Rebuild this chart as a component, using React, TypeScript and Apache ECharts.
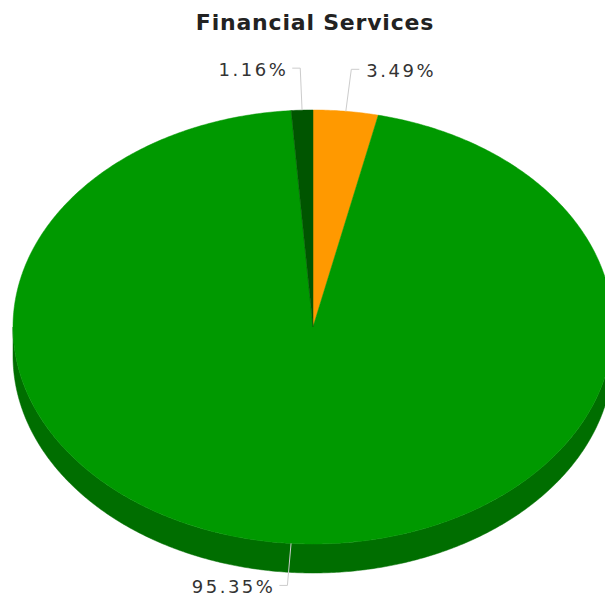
import React, { useEffect, useRef } from "react";
import * as echarts from "echarts";

const chartTitle = "Financial Services";
const sliceNames = ["Segment A", "Segment B", "Segment C"];
const sliceValues = [3.49, 95.35, 1.16];
const sliceLabels = ["3.49%", "95.35%", "1.16%"];
const topColors = ["#FF9900", "#009900", "#005500"];
const sideColors = ["#B36B00", "#006E00", "#003B00"];

const CX = 313;
const CY = 327;
const RX = 300;
const RY = 217;
const DEPTH = 29;

function pt(theta: number, dy = 0): number[] {
  const r = (theta * Math.PI) / 180;
  return [CX + RX * Math.sin(r), CY - RY * Math.cos(r) + dy];
}

function arcPoints(a1: number, a2: number, dy = 0): number[][] {
  const pts: number[][] = [];
  const steps = Math.max(2, Math.ceil(Math.abs(a2 - a1) / 0.5));
  for (let i = 0; i <= steps; i++) {
    pts.push(pt(a1 + ((a2 - a1) * i) / steps, dy));
  }
  return pts;
}

export default function App() {
  const ref = useRef<HTMLDivElement>(null);
  useEffect(() => {
    if (!ref.current) return;
    const chart = echarts.init(ref.current, undefined, { renderer: "svg" });
    const total = sliceValues.reduce((a, b) => a + b, 0);
    const starts: number[] = [];
    let acc = 0;
    sliceValues.forEach((v) => {
      starts.push((acc / total) * 360);
      acc += v;
    });

    const renderItem = (params: any, api: any) => {
      const i = params.dataIndex;
      const v = api.value(0);
      const a1 = starts[i];
      const a2 = a1 + (v / total) * 360;
      const children: any[] = [];
      const s = Math.max(a1, 90);
      const e = Math.min(a2, 270);
      if (e > s) {
        const pts = arcPoints(s, e, 0).concat(arcPoints(e, s, DEPTH));
        children.push({
          type: "polygon",
          z2: 1,
          shape: { points: pts },
          style: { fill: sideColors[i], stroke: sideColors[i], lineWidth: 0.5 },
        });
      }
      const topPts = [[CX, CY]].concat(arcPoints(a1, a2, 0));
      children.push({
        type: "polygon",
        z2: 10,
        shape: { points: topPts },
        style: { fill: topColors[i], stroke: topColors[i], lineWidth: 0.5 },
      });
      const m = (a1 + a2) / 2;
      const mr = (m * Math.PI) / 180;
      const E = pt(m, 0);
      const up = Math.cos(mr) > 0;
      const P = [E[0] + 50 * Math.sin(mr), up ? E[1] - 42 : E[1] + 42];
      const dir = Math.sin(mr) >= 0 ? 1 : -1;
      const Q = [P[0] + dir * 8, P[1]];
      children.push({
        type: "polyline",
        z2: 20,
        shape: { points: [E, P, Q] },
        style: { stroke: "#cccccc", lineWidth: 1, fill: null },
      });
      children.push({
        type: "text",
        z2: 20,
        style: {
          text: sliceLabels[i],
          x: Q[0] + dir * (dir > 0 ? 7 : 4),
          y: Q[1] + 1,
          align: dir > 0 ? "left" : "right",
          verticalAlign: "middle",
          fill: "#333333",
          fontSize: 18,
          fontFamily: "DejaVu Sans",
        },
      });
      return { type: "group", children };
    };

    chart.setOption({
      animation: false,
      title: {
        text: chartTitle,
        left: 310,
        textAlign: "center",
        top: 6,
        textStyle: {
          fontFamily: "DejaVu Sans",
          fontWeight: "bold",
          fontSize: 22,
          color: "#222222",
        },
      },
      series: [
        {
          type: "custom",
          coordinateSystem: "none",
          renderItem,
          data: sliceValues.map((v, i) => ({ name: sliceNames[i], value: [v, i] })),
        },
      ],
    });
    return () => chart.dispose();
  }, []);
  return (
    <>
      <style>{`
        .fin-chart svg text { letter-spacing: 2.5px; }
        .fin-chart svg text[font-weight="bold"], .fin-chart svg text[style*="bold"] { letter-spacing: 0.8px; }
      `}</style>
      <div
        ref={ref}
        className="fin-chart"
        style={{ position: "fixed", left: 0, top: 0, width: 605, height: 603, background: "#fff" }}
      />
    </>
  );
}
